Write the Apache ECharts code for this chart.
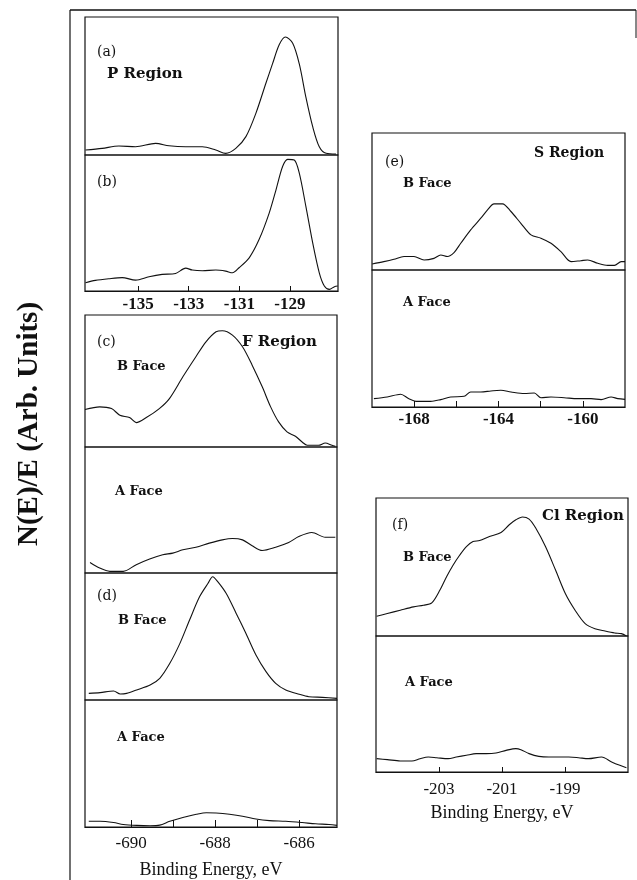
<!DOCTYPE html>
<html>
<head>
<meta charset="utf-8">
<title>XPS spectra</title>
<script src="https://cdn.jsdelivr.net/npm/echarts@6/dist/echarts.min.js"></script>
<style>
  html, body { margin: 0; padding: 0; background: #fff; }
  #chart { width: 637px; height: 880px; }
</style>
</head>
<body>
<div id="chart"></div>
<script>
// binding energy (eV) and intensity (arb. units, % of panel height)

// (a) P region
const aEnergy = [-137.08, -136.42, -135.76, -135.10, -134.31, -133.78, -133.12, -132.46, -131.93, -131.54, -131.14, -130.74, -130.35, -129.95, -129.69, -129.42, -129.18, -128.89, -128.63, -128.37, -128.10, -127.84, -127.57, -127.18];
const aSignal = [3.6, 4.8, 6.5, 6.0, 8.4, 6.7, 6.0, 6.0, 3.6, 1.2, 4.8, 13.3, 30, 52, 66, 80, 85.5, 81, 66, 42, 20.5, 6.0, 1.2, 0.7];

// (b) P region
const bEnergy = [-137.08, -136.69, -136.16, -135.63, -135.10, -134.57, -134.05, -133.52, -133.12, -132.86, -132.46, -131.93, -131.54, -131.27, -131.01, -130.61, -130.22, -129.82, -129.55, -129.29, -129.09, -128.83, -128.63, -128.37, -128.10, -127.84, -127.64, -127.44, -127.24, -127.11];
const bSignal = [6.1, 7.8, 9.0, 9.8, 8.0, 10.5, 12.2, 12.9, 16.8, 15.4, 14.9, 15.4, 14.6, 13.4, 17.1, 24.4, 37.8, 57.3, 74.4, 91.5, 96.8, 96.3, 86.6, 62.2, 35.4, 13.4, 3.7, 1.2, 3.2, 3.7];

// (c) F region, B face / A face
const cBEnergy = [-691.10, -690.75, -690.47, -690.27, -690.04, -689.88, -689.64, -689.33, -689.09, -688.77, -688.46, -688.22, -687.98, -687.83, -687.59, -687.35, -687.12, -686.88, -686.68, -686.49, -686.29, -686.09, -685.93, -685.81, -685.54, -685.38, -685.22, -685.14];
const cBSignal = [28.4, 30.4, 29.1, 24.1, 22.3, 18.5, 22.3, 29.1, 36.7, 53.2, 68.4, 79.7, 87.3, 88.1, 84.8, 75.9, 62.0, 45.6, 30.4, 19.0, 11.4, 8.1, 3.8, 1.3, 1.3, 3.0, 1.3, 0.5];
const cAEnergy = [-690.98, -690.75, -690.51, -690.19, -689.88, -689.56, -689.25, -689.01, -688.77, -688.46, -688.14, -687.83, -687.59, -687.35, -687.12, -686.88, -686.56, -686.25, -686.01, -685.70, -685.38, -685.14];
const cASignal = [8.4, 3.9, 1.3, 1.3, 6.6, 11.1, 14.5, 15.8, 18.4, 20.5, 23.7, 26.3, 27.4, 26.3, 21.6, 17.9, 20.5, 24.2, 28.9, 32.1, 28.4, 28.4];

// (d) F region, B face / A face
const dBEnergy = [-691.01, -690.74, -690.42, -690.26, -690.11, -689.87, -689.55, -689.32, -689.08, -688.84, -688.61, -688.37, -688.17, -688.06, -687.94, -687.74, -687.50, -687.27, -687.03, -686.79, -686.56, -686.32, -686.00, -685.77, -685.45, -685.10];
const dBSignal = [5.2, 5.8, 7.1, 4.7, 5.2, 7.9, 11.8, 17.1, 28.9, 44.6, 63.0, 81.4, 91.9, 97.1, 93.2, 84.0, 68.2, 52.5, 35.4, 22.3, 13.1, 7.9, 4.5, 2.6, 2.1, 1.3];
const dAEnergy = [-691.01, -690.74, -690.42, -690.19, -689.87, -689.55, -689.32, -689.08, -688.77, -688.45, -688.21, -687.98, -687.66, -687.35, -687.03, -686.71, -686.32, -685.93, -685.61, -685.29, -685.10];
const dASignal = [4.5, 4.5, 3.5, 2.0, 1.25, 1.0, 1.5, 4.5, 7.5, 10.0, 11.25, 11.0, 10.0, 8.5, 6.25, 5.0, 4.5, 3.5, 2.5, 2.0, 1.25];

// (e) S region, B face / A face
const eBEnergy = [-169.99, -169.44, -168.96, -168.48, -168.01, -167.53, -167.06, -166.74, -166.42, -166.11, -165.79, -165.32, -164.84, -164.52, -164.21, -163.81, -163.41, -162.94, -162.46, -161.99, -161.51, -161.04, -160.56, -160.09, -159.77, -159.29, -158.82, -158.50, -158.18, -158.00];
const eBSignal = [4.4, 6.1, 7.8, 9.8, 9.8, 7.3, 8.5, 11.0, 9.8, 12.7, 19.5, 29.3, 37.8, 43.9, 48.3, 48.3, 42.7, 34.1, 25.6, 23.2, 19.5, 13.4, 6.1, 6.8, 7.3, 4.9, 3.4, 3.4, 6.1, 6.1];
const eAEnergy = [-169.91, -169.28, -168.64, -168.25, -167.85, -167.22, -166.74, -166.27, -165.63, -165.32, -164.84, -164.36, -163.89, -163.41, -162.78, -162.30, -161.99, -161.51, -160.88, -160.25, -159.61, -159.13, -158.66, -158.34, -158.00];
const eASignal = [6.1, 7.3, 9.3, 6.1, 4.1, 4.1, 5.4, 7.3, 7.8, 11.0, 11.0, 11.7, 12.2, 11.0, 9.8, 10.2, 6.8, 7.3, 6.8, 6.1, 6.1, 5.4, 7.3, 6.1, 5.6];

// (f) Cl region, B face / A face
const fBEnergy = [-204.98, -204.64, -204.23, -203.81, -203.49, -203.23, -202.97, -202.76, -202.55, -202.34, -202.13, -201.92, -201.71, -201.40, -201.03, -200.77, -200.56, -200.35, -200.14, -199.93, -199.62, -199.30, -198.99, -198.68, -198.36, -198.05, -197.73, -197.42, -197.21, -197.05];
const fBSignal = [14.3, 16.3, 18.7, 21.1, 22.3, 24.0, 33.3, 43.0, 51.5, 58.7, 64.8, 68.4, 69.2, 72.1, 75.0, 80.6, 84.2, 86.2, 84.7, 78.2, 64.8, 47.8, 30.8, 18.7, 9.0, 5.3, 3.6, 2.2, 1.7, 0.0];
const fAEnergy = [-204.98, -204.64, -204.23, -203.86, -203.60, -203.34, -203.07, -202.71, -202.45, -202.13, -201.82, -201.50, -201.19, -200.87, -200.56, -200.40, -200.14, -199.83, -199.51, -199.20, -198.88, -198.57, -198.26, -197.84, -197.52, -197.26, -197.05];
const fASignal = [9.8, 9.1, 8.1, 8.1, 9.8, 11.0, 10.5, 9.8, 11.0, 12.3, 13.5, 13.5, 14.0, 15.9, 17.2, 16.4, 13.5, 11.5, 11.0, 11.0, 11.0, 10.5, 9.8, 11.0, 7.4, 4.9, 3.2];

// tick positions / labels
const pTicks = [-135, -133, -131, -129];
const fTickMarks = [-690, -689, -688, -687, -686];
const fTickLabels = [-690, -688, -686];
const sTickMarks = [-168, -166, -164, -162, -160];
const sTickLabels = [-168, -164, -160];
const clTicks = [-203, -201, -199];

const ink = '#111';
const serif = '"Liberation Serif", "DejaVu Serif", serif';
const labelFont = '"DejaVu Serif", serif';

const chart = echarts.init(document.getElementById('chart'));

// panel boxes: [left, top, width, height]
const boxes = [
  [85, 17, 253, 138],   // a
  [85, 155, 253, 136],  // b
  [85, 315, 252, 132],  // c B
  [85, 447, 252, 126],  // c A
  [85, 573, 252, 127],  // d B
  [85, 700, 252, 133],  // d A
  [372, 133, 253, 137], // e B
  [372, 270, 253, 137], // e A
  [376, 498, 252, 138], // f B
  [376, 636, 252, 136]  // f A
];

const grids = boxes.map(b => ({
  left: b[0], top: b[1], width: b[2], height: b[3],
  show: true, borderColor: ink, borderWidth: 1.2, backgroundColor: 'transparent'
}));

const hiddenX = (i, min, max) => ({
  type: 'value', gridIndex: i, min: min, max: max, show: false
});

const bottomX = (i, min, max, marks, labels, opts) => ({
  type: 'value', gridIndex: i, min: min, max: max,
  axisLine: { show: true, lineStyle: { color: ink, width: 1.2 } },
  axisTick: { show: true, inside: true, length: opts.tick, customValues: marks, lineStyle: { color: ink, width: 1 } },
  axisLabel: {
    show: true, customValues: labels, margin: opts.margin, color: ink,
    fontFamily: serif, fontSize: 17, fontWeight: opts.bold ? 'bold' : 'normal'
  },
  splitLine: { show: false },
  name: opts.name || '', nameLocation: 'middle', nameGap: opts.nameGap || 0,
  nameTextStyle: { color: ink, fontFamily: serif, fontSize: 18 }
});

const xAxes = [
  hiddenX(0, -137.1, -127.1),
  bottomX(1, -137.1, -127.1, pTicks, pTicks, { tick: 5, margin: 5, bold: true }),
  hiddenX(2, -691.1, -685.1),
  hiddenX(3, -691.1, -685.1),
  hiddenX(4, -691.1, -685.1),
  bottomX(5, -691.1, -685.1, fTickMarks, fTickLabels, { tick: 7, margin: 8, name: 'Binding Energy, eV', nameGap: 34 }),
  hiddenX(6, -170, -158),
  bottomX(7, -170, -158, sTickMarks, sTickLabels, { tick: 6, margin: 4, bold: true }),
  hiddenX(8, -205, -197),
  bottomX(9, -205, -197, clTicks, clTicks, { tick: 5, margin: 9, name: 'Binding Energy, eV', nameGap: 32 })
];

const yAxes = boxes.map((b, i) => ({ type: 'value', gridIndex: i, min: 0, max: 100, show: false }));

const curves = [
  [aEnergy, aSignal], [bEnergy, bSignal],
  [cBEnergy, cBSignal], [cAEnergy, cASignal],
  [dBEnergy, dBSignal], [dAEnergy, dASignal],
  [eBEnergy, eBSignal], [eAEnergy, eASignal],
  [fBEnergy, fBSignal], [fAEnergy, fASignal]
];

const series = curves.map((c, i) => ({
  type: 'line', xAxisIndex: i, yAxisIndex: i,
  data: c[0].map((x, k) => [x, c[1][k]]),
  showSymbol: false, smooth: 0.3, silent: true,
  lineStyle: { color: ink, width: 1.1 }
}));

const txt = (s, x, y, size, bold) => ({
  type: 'text', x: x, y: y, silent: true,
  style: { text: s, fill: ink, font: (bold ? 'bold ' : '') + size + 'px ' + labelFont, textAlign: 'left', verticalAlign: 'middle' }
});

const option = {
  animation: false,
  grid: grids,
  xAxis: xAxes,
  yAxis: yAxes,
  series: series,
  graphic: [
    // outer frame of the figure
    { type: 'line', silent: true, shape: { x1: 70, y1: 10, x2: 636, y2: 10 }, style: { stroke: ink, lineWidth: 1.5 } },
    { type: 'line', silent: true, shape: { x1: 70, y1: 10, x2: 70, y2: 880 }, style: { stroke: ink, lineWidth: 1.2 } },
    { type: 'line', silent: true, shape: { x1: 636, y1: 10, x2: 636, y2: 38 }, style: { stroke: ink, lineWidth: 1 } },
    {
      type: 'text', x: 30, y: 424, rotation: Math.PI / 2, silent: true,
      style: { text: 'N(E)/E (Arb. Units)', fill: ink, font: 'bold 29px ' + serif, textAlign: 'center', verticalAlign: 'middle' }
    },
    txt('(a)', 97, 52, 14, false),
    txt('P Region', 107, 74, 15, true),
    txt('(b)', 97, 182, 14, false),
    txt('(c)', 97, 342, 14, false),
    txt('F Region', 242, 342, 15, true),
    txt('B Face', 117, 367, 13, true),
    txt('A Face', 115, 492, 13, true),
    txt('(d)', 97, 596, 14, false),
    txt('B Face', 118, 621, 13, true),
    txt('A Face', 117, 738, 13, true),
    txt('(e)', 385, 162, 14, false),
    txt('S Region', 534, 153, 14, true),
    txt('B Face', 403, 184, 13, true),
    txt('A Face', 403, 303, 13, true),
    txt('(f)', 392, 525, 14, false),
    txt('Cl Region', 542, 516, 15, true),
    txt('B Face', 403, 558, 13, true),
    txt('A Face', 405, 683, 13, true)
  ]
};

chart.setOption(option);
</script>
</body>
</html>
